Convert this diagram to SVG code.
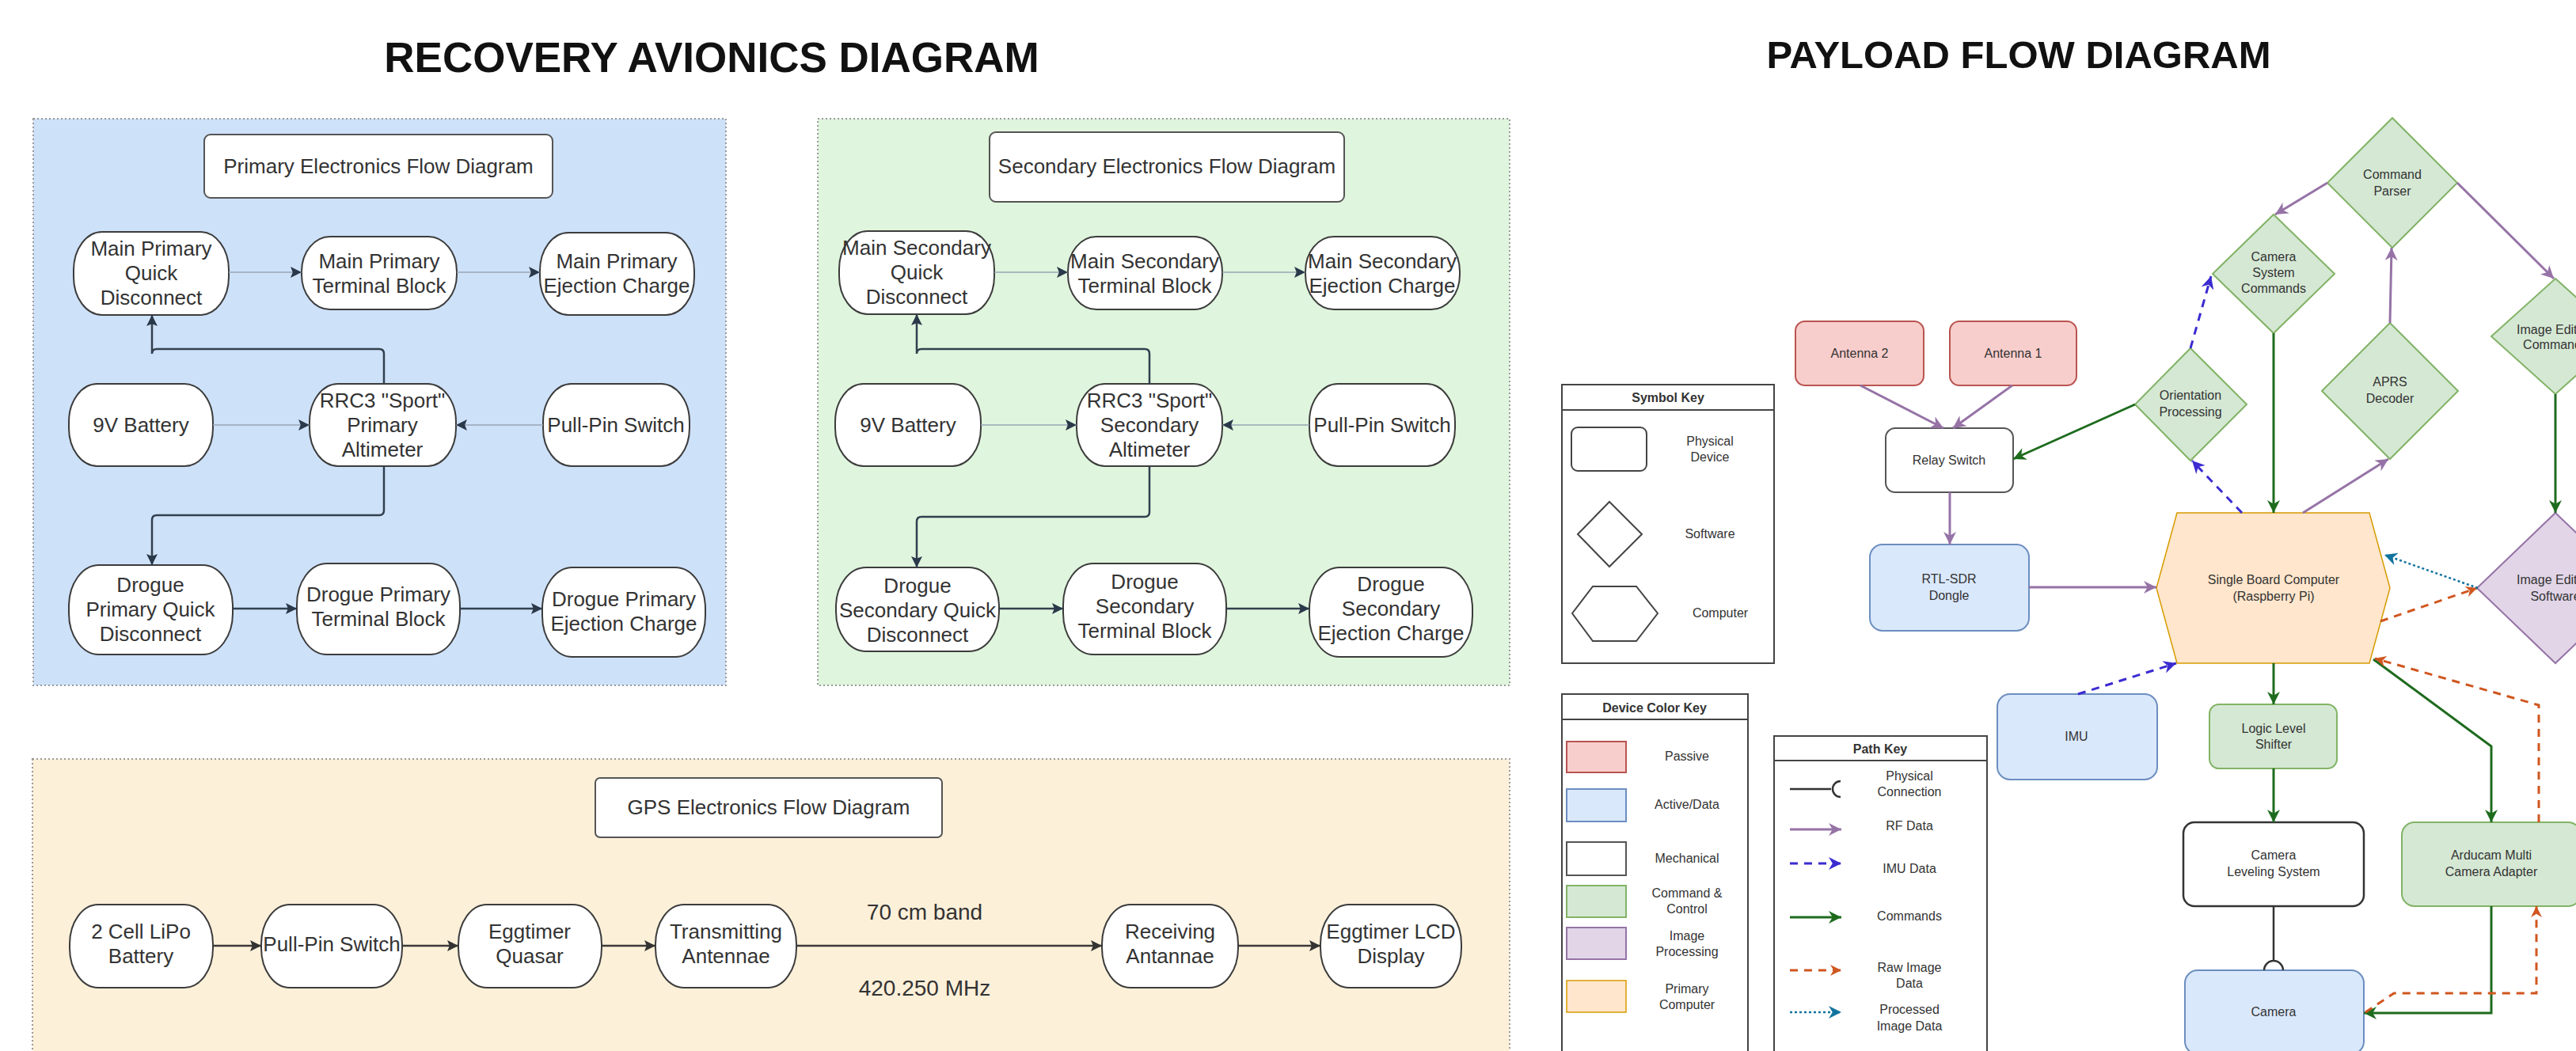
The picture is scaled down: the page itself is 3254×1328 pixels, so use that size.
<svg xmlns="http://www.w3.org/2000/svg" width="3254" height="1328" viewBox="0 0 3254 1328">
<style>
text{font-family:"Liberation Sans",Arial,sans-serif;fill:#333;text-anchor:middle}
.h1{font-weight:bold;fill:#111}
.rt{font-size:26px}
.pt{font-size:16px}
.kh{font-size:16px;font-weight:bold}
.panel{stroke:#9a9a9a;stroke-width:2;stroke-dasharray:2 3}
.rn{fill:#fff;stroke:#3c3c3c;stroke-width:2}
.tb{fill:#fff;stroke:#555;stroke-width:2}
.lt{fill:none;stroke:#98a4b4;stroke-width:1.5;marker-end:url(#aD)}
.dk{fill:none;stroke:#33404f;stroke-width:2.5;marker-end:url(#aD)}
.gp{fill:none;stroke:#3a3a3a;stroke-width:2.5;marker-end:url(#aG)}
.rf{fill:none;stroke:#9673a6;stroke-width:3;marker-end:url(#aP)}
.cm{fill:none;stroke:#1e6b1e;stroke-width:3;marker-end:url(#aC)}
.im{fill:none;stroke:#3b2bd0;stroke-width:3;stroke-dasharray:10 8;marker-end:url(#aI)}
.rw{fill:none;stroke:#d0561f;stroke-width:3;stroke-dasharray:10 8;marker-end:url(#aR)}
.pr{fill:none;stroke:#10739e;stroke-width:2.5;stroke-dasharray:3 3;marker-end:url(#aT)}
.pas{fill:#f8cecc;stroke:#b85450;stroke-width:2}
.act{fill:#dae8fc;stroke:#6c8ebf;stroke-width:2}
.mec{fill:#fff;stroke:#555;stroke-width:2}
.ccn{fill:#d5e8d4;stroke:#82b366;stroke-width:2}
.ipr{fill:#e1d5e7;stroke:#9673a6;stroke-width:2}
.cpu{fill:#ffe6cc;stroke:#d79b00;stroke-width:1.5}
.key{fill:#fff;stroke:#444;stroke-width:2}
</style>
<defs>
<marker id="aD" viewBox="0 0 10 10" refX="10" refY="5" markerWidth="18" markerHeight="14" markerUnits="userSpaceOnUse" orient="auto"><path d="M0,0 L10,5 L0,10 L2,5 z" fill="#2b384a"/></marker>
<marker id="aG" viewBox="0 0 10 10" refX="10" refY="5" markerWidth="18" markerHeight="14" markerUnits="userSpaceOnUse" orient="auto"><path d="M0,0 L10,5 L0,10 L2,5 z" fill="#333"/></marker>
<marker id="aP" viewBox="0 0 10 10" refX="10" refY="5" markerWidth="18" markerHeight="16" markerUnits="userSpaceOnUse" orient="auto"><path d="M0,0 L10,5 L0,10 L3,5 z" fill="#9673a6"/></marker>
<marker id="aC" viewBox="0 0 10 10" refX="10" refY="5" markerWidth="18" markerHeight="16" markerUnits="userSpaceOnUse" orient="auto"><path d="M0,0 L10,5 L0,10 L3,5 z" fill="#1e6b1e"/></marker>
<marker id="aI" viewBox="0 0 10 10" refX="10" refY="5" markerWidth="18" markerHeight="16" markerUnits="userSpaceOnUse" orient="auto"><path d="M0,0 L10,5 L0,10 L3,5 z" fill="#3b2bd0"/></marker>
<marker id="aR" viewBox="0 0 10 10" refX="10" refY="5" markerWidth="16" markerHeight="14" markerUnits="userSpaceOnUse" orient="auto"><path d="M0,0 L10,5 L0,10 L3,5 z" fill="#d0561f"/></marker>
<marker id="aT" viewBox="0 0 10 10" refX="10" refY="5" markerWidth="18" markerHeight="16" markerUnits="userSpaceOnUse" orient="auto"><path d="M0,0 L10,5 L0,10 L3,5 z" fill="#10739e"/></marker>
</defs>
<rect width="3254" height="1328" fill="#fff"/>

<text class="h1" x="899" y="91" style="font-size:53px">RECOVERY AVIONICS DIAGRAM</text>
<text class="h1" x="2550" y="86" style="font-size:49px">PAYLOAD FLOW DIAGRAM</text>

<!-- panels -->
<rect id="panel-primary" class="panel" x="42" y="150" width="875" height="716" fill="#cde1f9"/>
<rect id="panel-secondary" class="panel" x="1033" y="150" width="874" height="716" fill="#dff5dd"/>
<rect id="panel-gps" class="panel" x="41" y="959" width="1866" height="380" fill="#fdf0d9"/>

<!-- PRIMARY nodes -->
<g id="p-title"><rect class="tb" x="258" y="170" width="440" height="80" rx="8"/><text class="rt" x="478" y="219">Primary Electronics Flow Diagram</text></g>
<g id="p-mpqd"><rect class="rn" x="93" y="293" width="196" height="105" rx="36" ry="48"/><text class="rt" x="191" y="323">Main Primary</text><text class="rt" x="191" y="354">Quick</text><text class="rt" x="191" y="385">Disconnect</text></g>
<g id="p-mptb"><rect class="rn" x="381" y="299" width="196" height="92" rx="36" ry="44"/><text class="rt" x="479" y="339">Main Primary</text><text class="rt" x="479" y="370">Terminal Block</text></g>
<g id="p-mpec"><rect class="rn" x="682" y="294" width="195" height="104" rx="36" ry="48"/><text class="rt" x="779" y="339">Main Primary</text><text class="rt" x="779" y="370">Ejection Charge</text></g>
<g id="p-9v"><rect class="rn" x="87" y="485" width="182" height="104" rx="36" ry="48"/><text class="rt" x="178" y="546">9V Battery</text></g>
<g id="p-rrc3"><rect class="rn" x="391" y="485" width="185" height="104" rx="36" ry="48"/><text class="rt" x="483" y="515">RRC3 "Sport"</text><text class="rt" x="483" y="546">Primary</text><text class="rt" x="483" y="577">Altimeter</text></g>
<g id="p-pull"><rect class="rn" x="686" y="485" width="185" height="104" rx="36" ry="48"/><text class="rt" x="778" y="546">Pull-Pin Switch</text></g>
<g id="p-dpqd"><rect class="rn" x="87" y="714" width="207" height="113" rx="38" ry="52"/><text class="rt" x="190" y="748">Drogue</text><text class="rt" x="190" y="779">Primary Quick</text><text class="rt" x="190" y="810">Disconnect</text></g>
<g id="p-dptb"><rect class="rn" x="375" y="712" width="206" height="115" rx="38" ry="52"/><text class="rt" x="478" y="760">Drogue Primary</text><text class="rt" x="478" y="791">Terminal Block</text></g>
<g id="p-dpec"><rect class="rn" x="685" y="717" width="206" height="113" rx="38" ry="52"/><text class="rt" x="788" y="766">Drogue Primary</text><text class="rt" x="788" y="797">Ejection Charge</text></g>

<!-- SECONDARY nodes -->
<g id="s-title"><rect class="tb" x="1250" y="167" width="448" height="88" rx="8"/><text class="rt" x="1474" y="219">Secondary Electronics Flow Diagram</text></g>
<g id="s-msqd"><rect class="rn" x="1060" y="292" width="196" height="105" rx="36" ry="48"/><text class="rt" x="1158" y="322">Main Secondary</text><text class="rt" x="1158" y="353">Quick</text><text class="rt" x="1158" y="384">Disconnect</text></g>
<g id="s-mstb"><rect class="rn" x="1349" y="299" width="195" height="92" rx="36" ry="44"/><text class="rt" x="1446" y="339">Main Secondary</text><text class="rt" x="1446" y="370">Terminal Block</text></g>
<g id="s-msec"><rect class="rn" x="1649" y="299" width="195" height="92" rx="36" ry="44"/><text class="rt" x="1746" y="339">Main Secondary</text><text class="rt" x="1746" y="370">Ejection Charge</text></g>
<g id="s-9v"><rect class="rn" x="1055" y="485" width="184" height="104" rx="36" ry="48"/><text class="rt" x="1147" y="546">9V Battery</text></g>
<g id="s-rrc3"><rect class="rn" x="1360" y="485" width="184" height="104" rx="36" ry="48"/><text class="rt" x="1452" y="515">RRC3 "Sport"</text><text class="rt" x="1452" y="546">Secondary</text><text class="rt" x="1452" y="577">Altimeter</text></g>
<g id="s-pull"><rect class="rn" x="1654" y="485" width="184" height="104" rx="36" ry="48"/><text class="rt" x="1746" y="546">Pull-Pin Switch</text></g>
<g id="s-dsqd"><rect class="rn" x="1056" y="717" width="206" height="106" rx="38" ry="50"/><text class="rt" x="1159" y="749">Drogue</text><text class="rt" x="1159" y="780">Secondary Quick</text><text class="rt" x="1159" y="811">Disconnect</text></g>
<g id="s-dstb"><rect class="rn" x="1343" y="712" width="206" height="115" rx="38" ry="52"/><text class="rt" x="1446" y="744">Drogue</text><text class="rt" x="1446" y="775">Secondary</text><text class="rt" x="1446" y="806">Terminal Block</text></g>
<g id="s-dsec"><rect class="rn" x="1654" y="717" width="206" height="113" rx="38" ry="52"/><text class="rt" x="1757" y="747">Drogue</text><text class="rt" x="1757" y="778">Secondary</text><text class="rt" x="1757" y="809">Ejection Charge</text></g>

<!-- GPS nodes -->
<g id="g-title"><rect class="tb" x="752" y="983" width="438" height="75" rx="6"/><text class="rt" x="971" y="1029">GPS Electronics Flow Diagram</text></g>
<g id="g-lipo"><rect class="rn" x="88" y="1143" width="181" height="105" rx="36" ry="50"/><text class="rt" x="178" y="1186">2 Cell LiPo</text><text class="rt" x="178" y="1217">Battery</text></g>
<g id="g-pull"><rect class="rn" x="330" y="1143" width="178" height="105" rx="36" ry="50"/><text class="rt" x="419" y="1202">Pull-Pin Switch</text></g>
<g id="g-quasar"><rect class="rn" x="579" y="1143" width="181" height="105" rx="36" ry="50"/><text class="rt" x="669" y="1186">Eggtimer</text><text class="rt" x="669" y="1217">Quasar</text></g>
<g id="g-tx"><rect class="rn" x="828" y="1143" width="178" height="105" rx="36" ry="50"/><text class="rt" x="917" y="1186">Transmitting</text><text class="rt" x="917" y="1217">Antennae</text></g>
<g id="g-rx"><rect class="rn" x="1392" y="1143" width="172" height="105" rx="36" ry="50"/><text class="rt" x="1478" y="1186">Receiving</text><text class="rt" x="1478" y="1217">Antannae</text></g>
<g id="g-lcd"><rect class="rn" x="1668" y="1143" width="178" height="105" rx="36" ry="50"/><text class="rt" x="1757" y="1186">Eggtimer LCD</text><text class="rt" x="1757" y="1217">Display</text></g>
<text class="rt" x="1168" y="1162" style="font-size:28px">70 cm band</text>
<text class="rt" x="1168" y="1258" style="font-size:28px">420.250 MHz</text>

<!-- KEYS -->
<g id="symbol-key">
<rect class="key" x="1973" y="486" width="268" height="352"/><line x1="1973" y1="518" x2="2241" y2="518" stroke="#444" stroke-width="2"/>
<text class="kh" x="2107" y="508">Symbol Key</text>
<rect x="1985" y="540" width="95" height="55" rx="8" fill="#fff" stroke="#444" stroke-width="2"/>
<text class="pt" x="2160" y="563">Physical</text><text class="pt" x="2160" y="583">Device</text>
<polygon points="2033,634 2074,675 2033,716 1993,675" fill="#fff" stroke="#444" stroke-width="2"/>
<text class="pt" x="2160" y="680">Software</text>
<polygon points="1986,775 2012,741 2067,741 2094,775 2067,810 2012,810" fill="#fff" stroke="#444" stroke-width="2"/>
<text class="pt" x="2173" y="780">Computer</text>
</g>
<g id="color-key">
<rect class="key" x="1973" y="877" width="235" height="470"/><line x1="1973" y1="909" x2="2208" y2="909" stroke="#444" stroke-width="2"/>
<text class="kh" x="2090" y="900">Device Color Key</text>
<rect class="pas" x="1979" y="937" width="75" height="39"/><text class="pt" x="2131" y="961">Passive</text>
<rect class="act" x="1979" y="997" width="75" height="41"/><text class="pt" x="2131" y="1022">Active/Data</text>
<rect class="mec" x="1979" y="1064" width="75" height="42"/><text class="pt" x="2131" y="1090">Mechanical</text>
<rect class="ccn" x="1979" y="1119" width="75" height="40"/><text class="pt" x="2131" y="1134">Command &amp;</text><text class="pt" x="2131" y="1154">Control</text>
<rect class="ipr" x="1979" y="1172" width="75" height="40"/><text class="pt" x="2131" y="1188">Image</text><text class="pt" x="2131" y="1208">Processing</text>
<rect class="cpu" x="1979" y="1239" width="75" height="40"/><text class="pt" x="2131" y="1255">Primary</text><text class="pt" x="2131" y="1275">Computer</text>
</g>
<g id="path-key">
<rect class="key" x="2241" y="930" width="269" height="420"/><line x1="2241" y1="961" x2="2510" y2="961" stroke="#444" stroke-width="2"/>
<text class="kh" x="2375" y="952">Path Key</text>
<path d="M2261,997 H2313 M2325,987 A10,10 0 0,0 2325,1007" fill="none" stroke="#333" stroke-width="2.5"/>
<text class="pt" x="2412" y="986">Physical</text><text class="pt" x="2412" y="1006">Connection</text>
<line class="rf" x1="2261" y1="1048" x2="2326" y2="1048"/><text class="pt" x="2412" y="1049">RF Data</text>
<line class="im" x1="2261" y1="1091" x2="2326" y2="1091"/><text class="pt" x="2412" y="1103">IMU Data</text>
<line class="cm" x1="2261" y1="1159" x2="2326" y2="1159"/><text class="pt" x="2412" y="1163">Commands</text>
<line class="rw" x1="2261" y1="1226" x2="2326" y2="1226"/><text class="pt" x="2412" y="1228">Raw Image</text><text class="pt" x="2412" y="1248">Data</text>
<line class="pr" x1="2261" y1="1279" x2="2326" y2="1279"/><text class="pt" x="2412" y="1281">Processed</text><text class="pt" x="2412" y="1302">Image Data</text>
</g>

<!-- PAYLOAD nodes -->
<g id="ant2"><rect class="pas" x="2268" y="406" width="162" height="81" rx="12"/><text class="pt" x="2349" y="452">Antenna 2</text></g>
<g id="ant1"><rect class="pas" x="2463" y="406" width="160" height="81" rx="12"/><text class="pt" x="2543" y="452">Antenna 1</text></g>
<g id="relay"><rect class="mec" x="2382" y="541" width="161" height="81" rx="12"/><text class="pt" x="2462" y="587">Relay Switch</text></g>
<g id="rtlsdr"><rect class="act" x="2362" y="688" width="201" height="109" rx="16"/><text class="pt" x="2462" y="737">RTL-SDR</text><text class="pt" x="2462" y="758">Dongle</text></g>
<g id="imu"><rect class="act" x="2523" y="877" width="202" height="108" rx="16"/><text class="pt" x="2623" y="936">IMU</text></g>
<g id="sbc"><polygon class="cpu" points="2724,743 2750,648 2993,648 3019,743 2993,838 2750,838"/><text class="pt" x="2872" y="738">Single Board Computer</text><text class="pt" x="2872" y="759">(Raspberry Pi)</text></g>
<g id="cmdparser"><polygon class="ccn" points="3022,149 3104,231 3022,313 2940,231"/><text class="pt" x="3022" y="226">Command</text><text class="pt" x="3022" y="247">Parser</text></g>
<g id="camcmds"><polygon class="ccn" points="2872,271 2949,346 2872,421 2795,346"/><text class="pt" x="2872" y="330">Camera</text><text class="pt" x="2872" y="350">System</text><text class="pt" x="2872" y="370">Commands</text></g>
<g id="orient"><polygon class="ccn" points="2767,440 2838,511 2767,582 2697,511"/><text class="pt" x="2767" y="505">Orientation</text><text class="pt" x="2767" y="526">Processing</text></g>
<g id="aprs"><polygon class="ccn" points="3019,408 3105,494 3019,580 2933,494"/><text class="pt" x="3019" y="488">APRS</text><text class="pt" x="3019" y="509">Decoder</text></g>
<g id="imgcmds"><polygon class="ccn" points="3228,352 3309,425 3228,498 3147,425"/><text class="pt" x="3228" y="422">Image Editing</text><text class="pt" x="3228" y="441">Commands</text></g>
<g id="imgsw"><polygon class="ipr" points="3228,648 3327,743 3228,838 3129,743"/><text class="pt" x="3228" y="738">Image Editing</text><text class="pt" x="3228" y="759">Software</text></g>
<g id="lls"><rect class="ccn" x="2791" y="890" width="161" height="81" rx="12"/><text class="pt" x="2872" y="926">Logic Level</text><text class="pt" x="2872" y="946">Shifter</text></g>
<g id="cls"><rect x="2758" y="1039" width="228" height="106" rx="14" fill="#fff" stroke="#333" stroke-width="2.5"/><text class="pt" x="2872" y="1086">Camera</text><text class="pt" x="2872" y="1107">Leveling System</text></g>
<g id="arducam"><rect class="ccn" x="3034" y="1039" width="226" height="106" rx="16"/><text class="pt" x="3147" y="1086">Arducam Multi</text><text class="pt" x="3147" y="1107">Camera Adapter</text></g>
<g id="camera"><rect class="act" x="2760" y="1226" width="226" height="106" rx="16"/><text class="pt" x="2872" y="1284">Camera</text></g>

<!-- connectors -->
<g id="connectors">
<line class="lt" x1="289" y1="344" x2="381" y2="344"/>
<line class="lt" x1="577" y1="344" x2="682" y2="344"/>
<line class="lt" x1="269" y1="537" x2="391" y2="537"/>
<line class="lt" x1="686" y1="537" x2="576" y2="537"/>
<path class="dk" d="M485,485 V447 Q485,441 479,441 H198 Q192,441 192,447 V398"/>
<path class="dk" d="M485,589 V645 Q485,651 479,651 H198 Q192,651 192,657 V714"/>
<line class="dk" x1="294" y1="769" x2="375" y2="769"/>
<line class="dk" x1="581" y1="769" x2="685" y2="769"/>

<line class="lt" x1="1256" y1="344" x2="1349" y2="344"/>
<line class="lt" x1="1544" y1="344" x2="1649" y2="344"/>
<line class="lt" x1="1239" y1="537" x2="1360" y2="537"/>
<line class="lt" x1="1654" y1="537" x2="1544" y2="537"/>
<path class="dk" d="M1452,485 V447 Q1452,441 1446,441 H1164 Q1158,441 1158,447 V397"/>
<path class="dk" d="M1452,589 V647 Q1452,653 1446,653 H1164 Q1158,653 1158,659 V717"/>
<line class="dk" x1="1262" y1="769" x2="1343" y2="769"/>
<line class="dk" x1="1549" y1="769" x2="1654" y2="769"/>

<line class="gp" x1="269" y1="1195" x2="330" y2="1195"/>
<line class="gp" x1="508" y1="1195" x2="579" y2="1195"/>
<line class="gp" x1="760" y1="1195" x2="828" y2="1195"/>
<line class="gp" x1="1006" y1="1195" x2="1392" y2="1195"/>
<line class="gp" x1="1564" y1="1195" x2="1668" y2="1195"/>

<line class="rf" x1="2350" y1="487" x2="2455" y2="541"/>
<line class="rf" x1="2542" y1="487" x2="2467" y2="541"/>
<line class="rf" x1="2463" y1="622" x2="2463" y2="688"/>
<line class="rf" x1="2563" y1="742" x2="2724" y2="742"/>
<line class="rf" x1="2940" y1="231" x2="2874" y2="271"/>
<line class="rf" x1="3104" y1="231" x2="3226" y2="352"/>
<line class="rf" x1="3019" y1="408" x2="3021" y2="313"/>
<line class="rf" x1="2909" y1="648" x2="3017" y2="580"/>

<line class="cm" x1="2697" y1="511" x2="2543" y2="580"/>
<line class="cm" x1="2872" y1="421" x2="2872" y2="648"/>
<line class="cm" x1="3228" y1="498" x2="3228" y2="648"/>
<line class="cm" x1="2872" y1="838" x2="2872" y2="890"/>
<line class="cm" x1="2872" y1="971" x2="2872" y2="1039"/>
<path class="cm" d="M2998,833 L3147,943 V1039"/>
<path class="cm" d="M3147,1145 V1280 H2986"/>

<line class="im" x1="2767" y1="440" x2="2793" y2="349"/>
<line class="im" x1="2832" y1="648" x2="2769" y2="582"/>
<line class="im" x1="2625" y1="877" x2="2749" y2="838"/>

<line class="rw" x1="3007" y1="785" x2="3129" y2="743"/>
<path class="rw" d="M3207,1039 V891 L3000,832"/>
<path class="rw" d="M2988,1279 L3024,1255 H3204 V1145"/>

<line class="pr" x1="3130" y1="743" x2="3012" y2="701"/>

<path d="M2872,1145 V1214 M2860,1226 A12,12 0 0,1 2884,1226" fill="none" stroke="#333" stroke-width="2.5"/>
</g>
</svg>
